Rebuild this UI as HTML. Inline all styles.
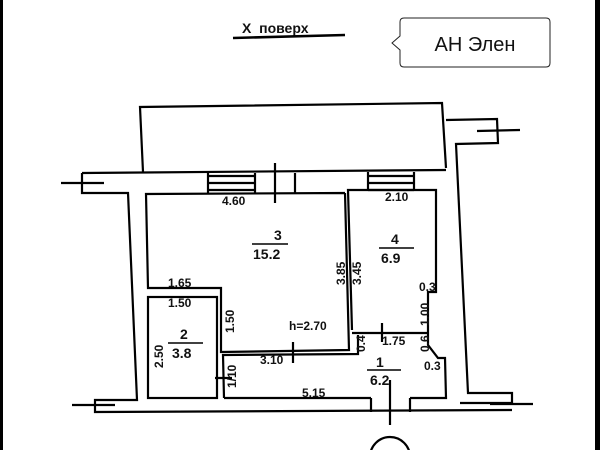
<!DOCTYPE html>
<html><head><meta charset="utf-8"><style>
html,body{margin:0;padding:0;background:#fff;width:600px;height:450px;overflow:hidden}
svg{display:block}
text{font-family:"Liberation Sans",sans-serif;fill:#111}
</style></head><body>
<svg width="600" height="450" viewBox="0 0 600 450" xmlns="http://www.w3.org/2000/svg">
<rect x="0" y="0" width="3" height="450" fill="#000"/>
<rect x="595" y="0" width="5" height="450" fill="#000"/>
<g fill="none" stroke="#000" stroke-width="2.2" stroke-linejoin="miter">
<polyline points="143,172 140,107 442,103 446,168"/>
<polyline points="446,120 497,119 498,143 456,144 468,393 512,393 512,403 460,403"/>
<line x1="477" y1="131" x2="520" y2="130"/>
<line x1="82" y1="173" x2="446" y2="170"/>
<polyline points="82,173 82,193 128,193 137,400 95,400 95,412 512,410"/>
<line x1="61" y1="183" x2="104" y2="183"/>
<line x1="72" y1="405" x2="115" y2="405"/>
<line x1="490" y1="404" x2="533" y2="404"/>
<polyline points="345,193 146,194 148,288 221,288 221,352 349,350 345,193"/>
<line x1="295" y1="173" x2="295" y2="193"/>
<line x1="275" y1="163" x2="275" y2="203"/>
<line x1="208" y1="176" x2="255" y2="176"/><line x1="208" y1="183" x2="255" y2="183"/><line x1="208" y1="190" x2="255" y2="190"/>
<line x1="208" y1="173" x2="208" y2="193"/><line x1="255" y1="173" x2="255" y2="193"/>
<line x1="368" y1="176" x2="414" y2="176"/><line x1="368" y1="183" x2="414" y2="183"/><line x1="368" y1="190" x2="414" y2="190"/>
<line x1="368" y1="172" x2="368" y2="190"/><line x1="414" y1="172" x2="414" y2="190"/>
<polyline points="352,330 348,190 436,190 436,292 428,292 428,345 438,358 445,358 446,398 410,398"/>
<line x1="352" y1="333" x2="428" y2="333"/>
<rect x="148" y="297" width="69" height="101"/>
<polyline points="224,398 223,355 358,354 358,335"/>
<line x1="224" y1="398" x2="371" y2="398"/>
<line x1="371" y1="398" x2="371" y2="412"/><line x1="410" y1="398" x2="410" y2="412"/>
<line x1="390" y1="380" x2="390" y2="425"/>
<line x1="215" y1="378" x2="232" y2="378"/>
<line x1="293" y1="342" x2="293" y2="363"/>
<line x1="382" y1="323" x2="382" y2="342"/>
<circle cx="390" cy="457" r="20"/>
</g>
<g font-size="12" font-weight="bold">
<text x="222" y="205">4.60</text>
<text x="385" y="201">2.10</text>
<text x="274" y="240" font-size="14">3</text>
<line x1="252" y1="244" x2="288" y2="244" stroke="#000" stroke-width="1.5"/>
<text x="253" y="259" font-size="14">15.2</text>
<text x="391" y="244" font-size="14">4</text>
<line x1="379" y1="248" x2="414" y2="248" stroke="#000" stroke-width="1.5"/>
<text x="381" y="263" font-size="14">6.9</text>
<text transform="translate(345,285) rotate(-90)">3.85</text>
<text transform="translate(361,285) rotate(-90)">3.45</text>
<text x="168" y="287">1.65</text>
<text x="168" y="307">1.50</text>
<text transform="translate(234,333) rotate(-90)">1.50</text>
<text x="289" y="330">h=2.70</text>
<text x="180" y="339" font-size="14">2</text>
<line x1="168" y1="343" x2="203" y2="343" stroke="#000" stroke-width="1.5"/>
<text x="172" y="358" font-size="14">3.8</text>
<text transform="translate(163,368) rotate(-90)">2.50</text>
<text x="260" y="364">3.10</text>
<text transform="translate(236,388) rotate(-90)">1/10</text>
<text transform="translate(365,352) rotate(-90)">0.4</text>
<text x="382" y="345">1.75</text>
<text transform="translate(429,326) rotate(-90)">1.00</text>
<text transform="translate(429,352) rotate(-90)">0.6</text>
<text x="419" y="291">0.3</text>
<text x="424" y="370">0.3</text>
<text x="376" y="367" font-size="14">1</text>
<line x1="367" y1="370" x2="401" y2="370" stroke="#000" stroke-width="1.5"/>
<text x="370" y="385" font-size="14">6.2</text>
<text x="302" y="397">5.15</text>
<text x="242" y="33" font-size="14">X&#160;&#160;поверх</text>
</g>
<path d="M233,38 L345,35" stroke="#000" stroke-width="2.5"/>
<path d="M404,18 H546 Q550,18 550,22 V63 Q550,67 546,67 H404 Q400,67 400,63 V50 L392,43 L400,36 V22 Q400,18 404,18 Z" fill="#fff" stroke="#222" stroke-width="1"/>
<text x="475" y="51" font-size="20" text-anchor="middle" style="font-family:'Liberation Sans',sans-serif">АН Элен</text>
</svg>
</body></html>
